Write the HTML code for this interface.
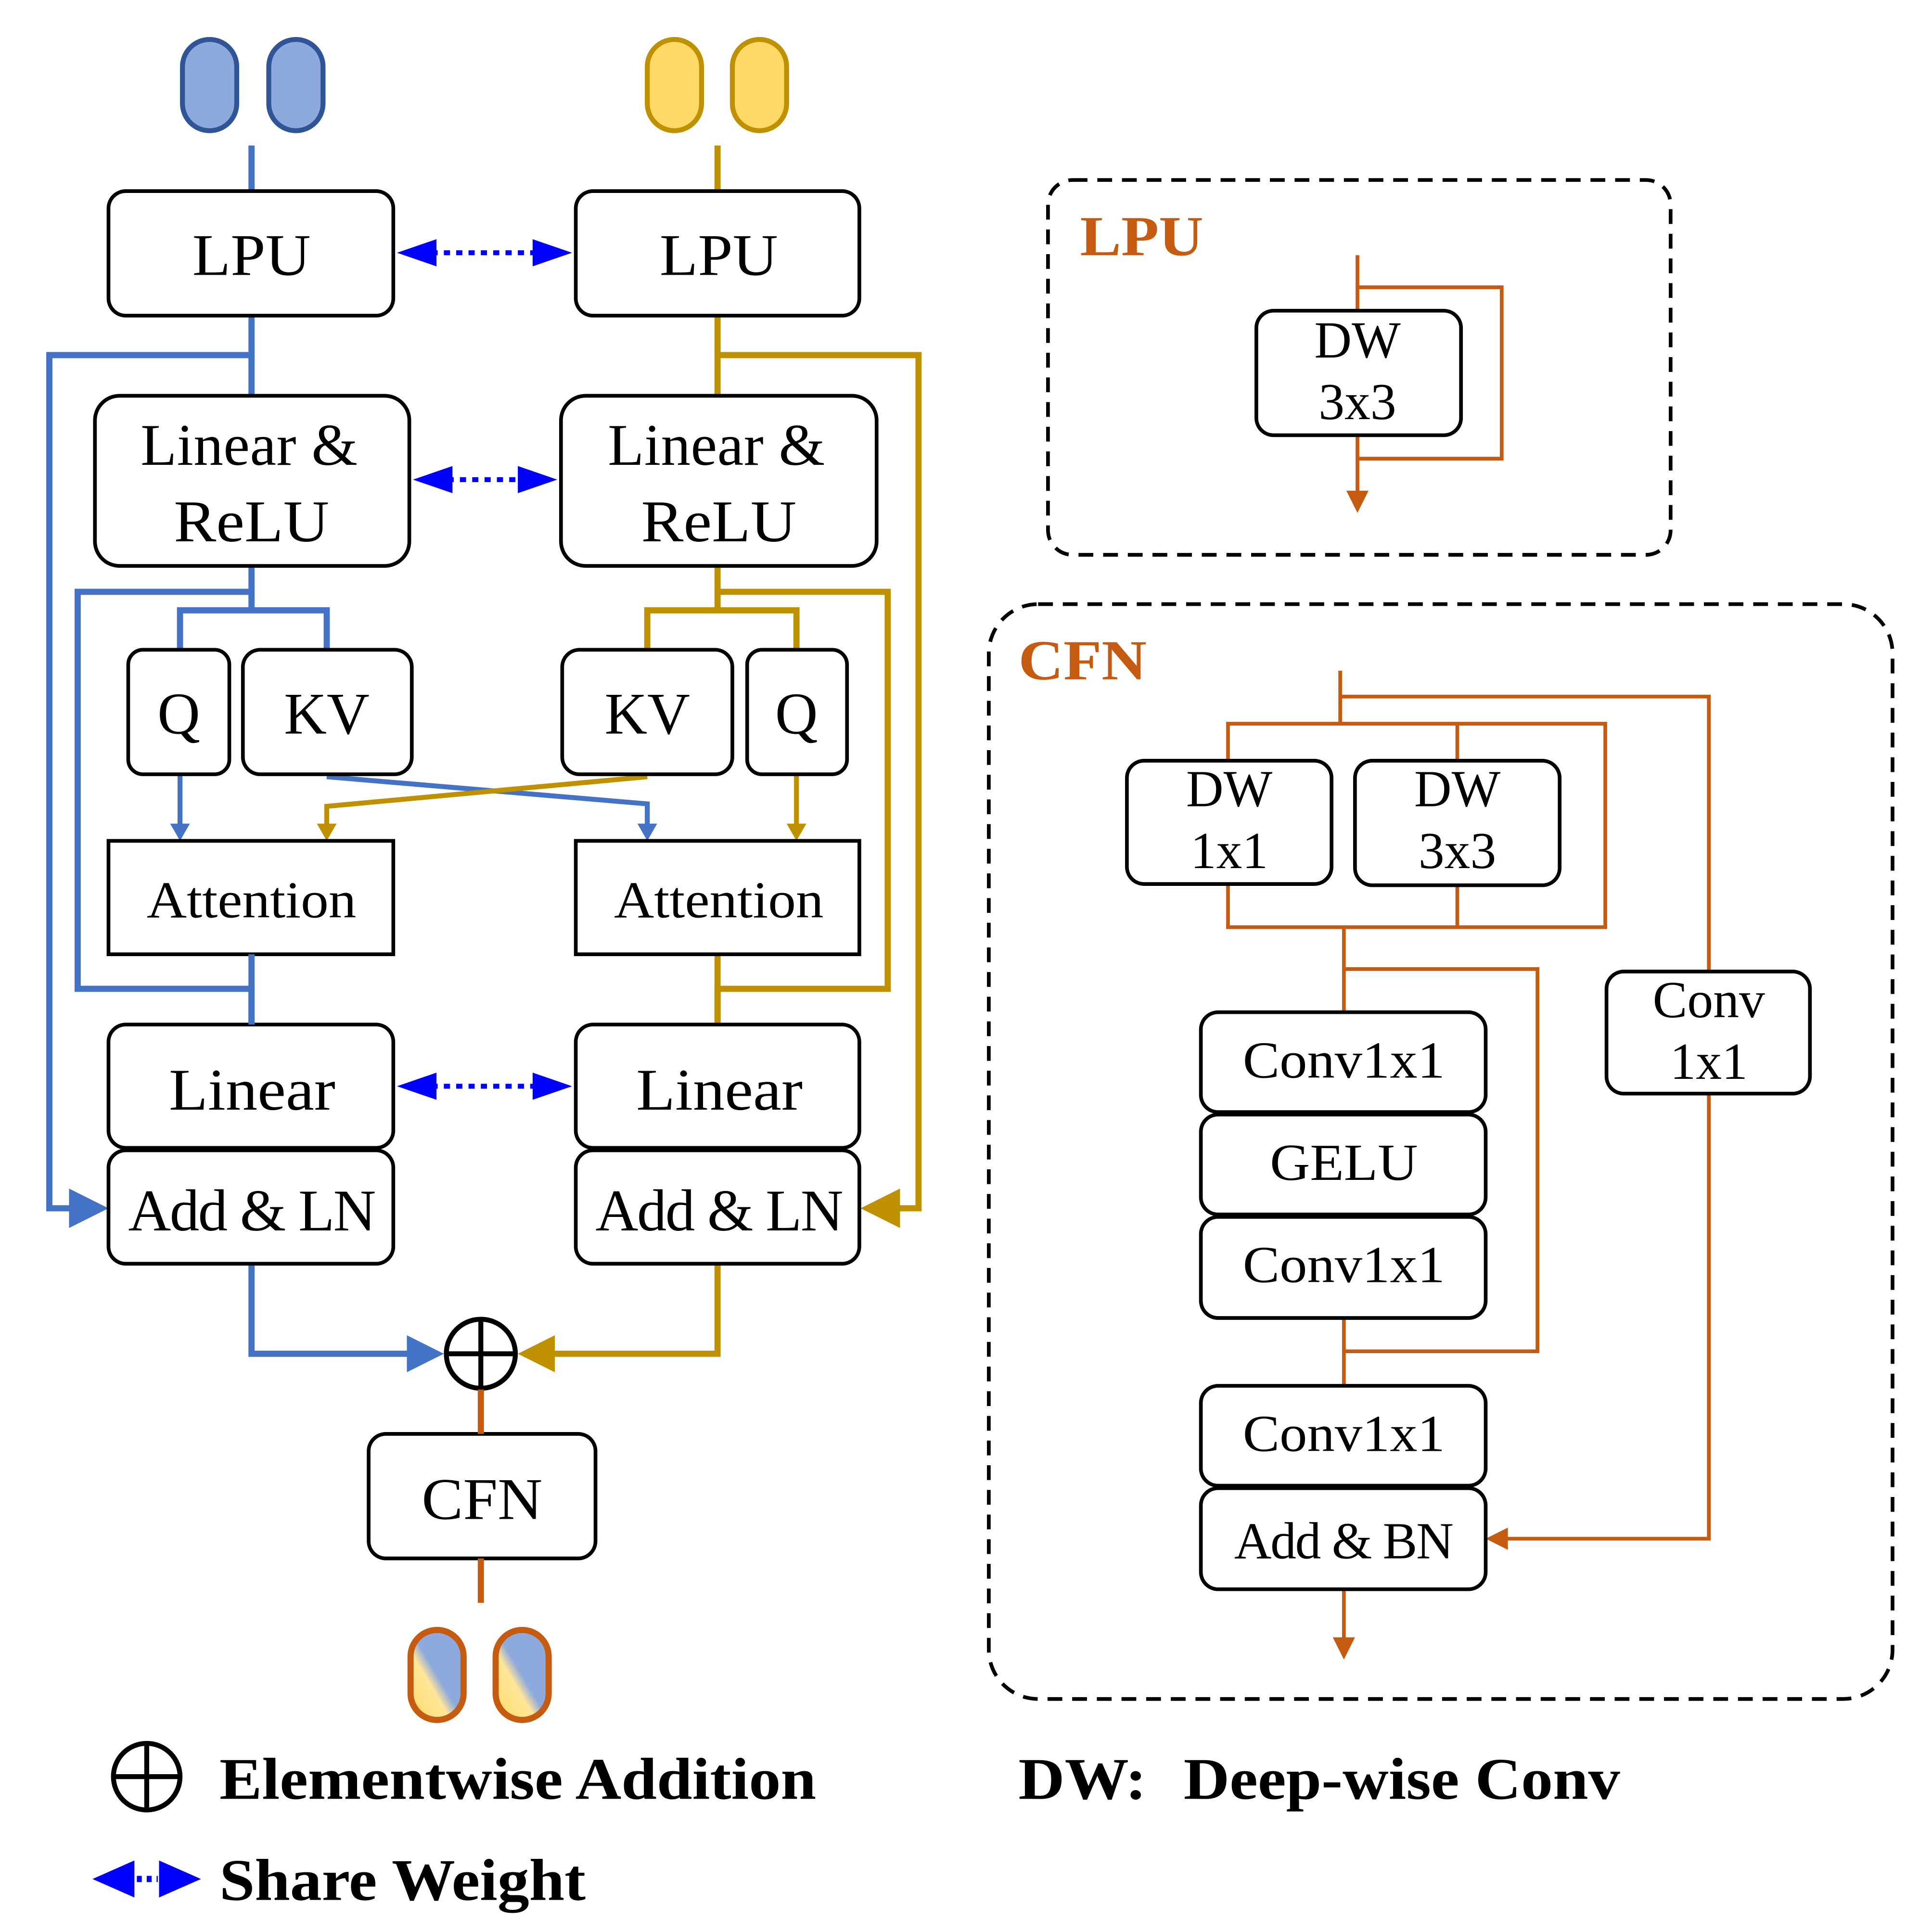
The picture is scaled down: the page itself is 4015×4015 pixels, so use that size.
<!DOCTYPE html>
<html><head><meta charset="utf-8"><style>
html,body{margin:0;padding:0;background:#fff;}
svg{display:block;}
text{font-family:"Liberation Serif",serif;}
</style></head><body>
<svg width="4015" height="4015" viewBox="0 0 1567 1567" xmlns="http://www.w3.org/2000/svg">
<defs>
<linearGradient id="g" x1="1" y1="0" x2="0" y2="1">
<stop offset="0" stop-color="#8eaadc"/><stop offset="0.5" stop-color="#8eaadc"/><stop offset="0.62" stop-color="#ffe699"/><stop offset="1" stop-color="#ffd966"/>
</linearGradient>
</defs>
<rect width="1567" height="1567" fill="#fff"/>

<g stroke-width="4">
<rect x="148" y="32" width="44" height="74" rx="22" fill="#8eaadc" stroke="#2f5597"/>
<rect x="218" y="32" width="44" height="74" rx="22" fill="#8eaadc" stroke="#2f5597"/>
<rect x="525" y="32" width="44" height="74" rx="22" fill="#ffd966" stroke="#bf9000"/>
<rect x="594" y="32" width="44" height="74" rx="22" fill="#ffd966" stroke="#bf9000"/>
</g>

<g stroke="#4472c4" stroke-width="5" fill="none">
<path d="M204,118V155"/>
<path d="M204,256V321"/>
<path d="M204,288H40V980H62"/>
<path d="M204,459V495"/>
<path d="M204,480H63V802H204V831"/>
<path d="M146,527V495H265V527"/>
</g>
<g stroke="#4472c4" stroke-width="4" fill="none">
<path d="M146,628V672"/>
<path d="M265,630L525,652V672"/>
</g>
<path d="M146,682l-8,-14h16z" fill="#4472c4"/>
<path d="M525,682l-8,-14h16z" fill="#4472c4"/>
<path d="M88,980l-32,-16v32z" fill="#4472c4"/>
<path d="M204,1025V1098H335" stroke="#4472c4" stroke-width="5" fill="none"/>
<path d="M360,1098l-30,-15v30z" fill="#4472c4"/>

<g stroke="#bf9000" stroke-width="5" fill="none">
<path d="M582,118V155"/>
<path d="M582,256V321"/>
<path d="M582,288H745V980H725"/>
<path d="M582,459V495"/>
<path d="M582,480H720V802H582V831"/>
<path d="M525,527V495H646V527"/>
<path d="M582,774V831"/>
</g>
<g stroke="#bf9000" stroke-width="4" fill="none">
<path d="M646,628V672"/>
<path d="M525,630L265,654V672"/>
</g>
<path d="M265,682l-8,-14h16z" fill="#bf9000"/>
<path d="M646,682l-8,-14h16z" fill="#bf9000"/>
<path d="M698,980l32,-16v32z" fill="#bf9000"/>
<path d="M582,1025V1098H445" stroke="#bf9000" stroke-width="5" fill="none"/>
<path d="M420,1098l30,-15v30z" fill="#bf9000"/>

<g>
<path d="M350,205H440" stroke="#0000ff" stroke-width="4" stroke-dasharray="5,5"/>
<path d="M322,205l32,-11v22z M464,205l-32,-11v22z" fill="#0000ff"/>
<path d="M363,389H427" stroke="#0000ff" stroke-width="4" stroke-dasharray="5,5"/>
<path d="M335,389l32,-11v22z M452,389l-32,-11v22z" fill="#0000ff"/>
<path d="M350,881H440" stroke="#0000ff" stroke-width="4" stroke-dasharray="5,5"/>
<path d="M322,881l32,-11v22z M464,881l-32,-11v22z" fill="#0000ff"/>
</g>

<g fill="#fff" stroke="#000" stroke-width="3">
<rect x="88" y="155" width="231" height="101" rx="14"/>
<rect x="467" y="155" width="230" height="101" rx="14"/>
<rect x="77" y="321" width="255" height="138" rx="20"/>
<rect x="455" y="321" width="256" height="138" rx="20"/>
<rect x="104" y="527" width="82" height="101" rx="12"/>
<rect x="197" y="527" width="137" height="101" rx="14"/>
<rect x="456" y="527" width="138" height="101" rx="14"/>
<rect x="606" y="527" width="81" height="101" rx="12"/>
<rect x="88" y="682" width="231" height="92"/>
<rect x="467" y="682" width="230" height="92"/>
<rect x="88" y="831" width="231" height="100" rx="14"/>
<rect x="467" y="831" width="230" height="100" rx="14"/>
<rect x="88" y="933" width="231" height="92" rx="14"/>
<rect x="467" y="933" width="230" height="92" rx="14"/>
<rect x="299" y="1163" width="184" height="101" rx="14"/>
</g>
<path d="M204,774V831" stroke="#4472c4" stroke-width="5"/>

<g font-size="48" fill="#000">
<text x="156" y="223" textLength="96" lengthAdjust="spacingAndGlyphs">LPU</text>
<text x="535" y="223" textLength="96" lengthAdjust="spacingAndGlyphs">LPU</text>
<text x="114" y="377" textLength="176" lengthAdjust="spacing">Linear &amp;</text>
<text x="141" y="439" textLength="126" lengthAdjust="spacingAndGlyphs">ReLU</text>
<text x="493" y="377" textLength="176" lengthAdjust="spacing">Linear &amp;</text>
<text x="520" y="439" textLength="126" lengthAdjust="spacingAndGlyphs">ReLU</text>
<text x="145" y="595" text-anchor="middle">Q</text>
<text x="265" y="595" text-anchor="middle">KV</text>
<text x="525" y="595" text-anchor="middle">KV</text>
<text x="646" y="595" text-anchor="middle">Q</text>
<text x="137" y="900" textLength="135" lengthAdjust="spacingAndGlyphs">Linear</text>
<text x="516" y="900" textLength="135" lengthAdjust="spacingAndGlyphs">Linear</text>
<text x="104" y="998" textLength="201" lengthAdjust="spacing">Add &amp; LN</text>
<text x="483" y="998" textLength="201" lengthAdjust="spacing">Add &amp; LN</text>
<text x="342" y="1232" textLength="98" lengthAdjust="spacingAndGlyphs">CFN</text>
</g>
<g font-size="42">
<text x="119" y="744" textLength="170" lengthAdjust="spacingAndGlyphs">Attention</text>
<text x="498" y="744" textLength="170" lengthAdjust="spacingAndGlyphs">Attention</text>
</g>

<circle cx="390" cy="1098" r="28" fill="#fff" stroke="#000" stroke-width="4"/>
<path d="M362,1098H418M390,1070V1126" stroke="#000" stroke-width="4"/>
<path d="M390,1127V1163M390,1264V1300" stroke="#c55a11" stroke-width="5"/>

<rect x="333" y="1322" width="43" height="73" rx="21.5" fill="url(#g)" stroke="#c55a11" stroke-width="5"/>
<rect x="402" y="1322" width="43" height="73" rx="21.5" fill="url(#g)" stroke="#c55a11" stroke-width="5"/>

<circle cx="119" cy="1441" r="27" fill="none" stroke="#000" stroke-width="4"/>
<path d="M92,1441H146M119,1414V1468" stroke="#000" stroke-width="4"/>
<text x="178" y="1459" font-size="48" font-weight="bold" textLength="484" lengthAdjust="spacingAndGlyphs">Elementwise Addition</text>
<path d="M75,1524l34,-15v30z M163,1524l-34,-15v30z" fill="#0000ff"/>
<path d="M111,1524H128" stroke="#0000ff" stroke-width="5" stroke-dasharray="4,4"/>
<text x="178" y="1541" font-size="48" font-weight="bold" textLength="297" lengthAdjust="spacingAndGlyphs">Share Weight</text>
<text x="826" y="1459" font-size="48" font-weight="bold" textLength="104" lengthAdjust="spacingAndGlyphs">DW:</text>
<text x="960" y="1459" font-size="48" font-weight="bold" textLength="354" lengthAdjust="spacingAndGlyphs">Deep-wise Conv</text>

<rect x="850" y="146" width="505" height="304" rx="20" fill="none" stroke="#000" stroke-width="3" stroke-dasharray="12,8"/>
<text x="876" y="207" font-size="46" font-weight="bold" fill="#c55a11" textLength="100" lengthAdjust="spacingAndGlyphs">LPU</text>
<g stroke="#c55a11" stroke-width="3" fill="none">
<path d="M1101,207V252"/>
<path d="M1101,233H1218V372H1101"/>
<path d="M1101,353V402"/>
</g>
<path d="M1101,416l-9,-18h18z" fill="#c55a11"/>
<rect x="1019" y="252" width="166" height="101" rx="14" fill="#fff" stroke="#000" stroke-width="3"/>
<g font-size="42" text-anchor="middle">
<text x="1101" y="290">DW</text>
<text x="1101" y="340">3x3</text>
</g>

<rect x="802" y="490" width="733" height="888" rx="40" fill="none" stroke="#000" stroke-width="3" stroke-dasharray="12,8"/>
<text x="826" y="551" font-size="46" font-weight="bold" fill="#c55a11" textLength="104" lengthAdjust="spacingAndGlyphs">CFN</text>
<g stroke="#c55a11" stroke-width="3" fill="none">
<path d="M1087,544V587"/>
<path d="M1087,565H1386V788"/>
<path d="M1386,887V1248H1218"/>
<path d="M996,617V587H1302V752H996V717"/>
<path d="M1182,587V617M1182,717V752"/>
<path d="M1090,752V821"/>
<path d="M1090,786H1247V1096H1090"/>
<path d="M1090,1069V1124"/>
<path d="M1090,1289V1332"/>
</g>
<path d="M1205,1248l18,-9v18z" fill="#c55a11"/>
<path d="M1090,1346l-9,-18h18z" fill="#c55a11"/>
<g fill="#fff" stroke="#000" stroke-width="3">
<rect x="914" y="617" width="166" height="100" rx="14"/>
<rect x="1099" y="617" width="166" height="101" rx="14"/>
<rect x="1303" y="788" width="165" height="99" rx="14"/>
<rect x="974" y="821" width="231" height="81" rx="14"/>
<rect x="974" y="904" width="231" height="81" rx="14"/>
<rect x="974" y="987" width="231" height="82" rx="14"/>
<rect x="974" y="1124" width="231" height="81" rx="14"/>
<rect x="974" y="1207" width="231" height="82" rx="14"/>
</g>
<g font-size="42" text-anchor="middle">
<text x="997" y="654">DW</text>
<text x="997" y="704">1x1</text>
<text x="1182" y="654">DW</text>
<text x="1182" y="704">3x3</text>
<text x="1386" y="825">Conv</text>
<text x="1386" y="875">1x1</text>
<text x="1090" y="874" textLength="164" lengthAdjust="spacingAndGlyphs">Conv1x1</text>
<text x="1090" y="957" textLength="120" lengthAdjust="spacingAndGlyphs">GELU</text>
<text x="1090" y="1040" textLength="164" lengthAdjust="spacingAndGlyphs">Conv1x1</text>
<text x="1090" y="1177" textLength="164" lengthAdjust="spacingAndGlyphs">Conv1x1</text>
<text x="1090" y="1264" textLength="178" lengthAdjust="spacing">Add &amp; BN</text>
</g>
</svg>
</body></html>
